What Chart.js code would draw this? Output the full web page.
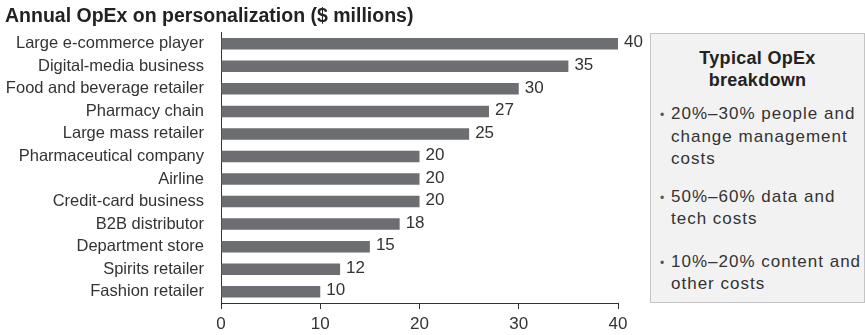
<!DOCTYPE html>
<html>
<head>
<meta charset="utf-8">
<script src="https://cdn.jsdelivr.net/npm/chart.js@4"></script>
<style>
  body { margin: 0; background: #fff; font-family: "Liberation Sans", Arial, sans-serif; color: #333; }
  #wrap { position: relative; width: 865px; height: 335px; overflow: hidden; }
  #title { position: absolute; left: 5px; top: 3px; font-size: 19.5px; line-height: 24px; font-weight: bold; color: #222; white-space: nowrap; }
  #holder { position: absolute; left: 0; top: 0; width: 645px; height: 335px; }
  #box { position: absolute; left: 650px; top: 33px; width: 213px; height: 268px; background: #f2f2f2; border: 1px solid #c4c4c4; font-size: 17px; letter-spacing: 1px; line-height: 22.5px; color: #333; }
  #box h3 { margin: 13px 0 12px 0; font-size: 18px; letter-spacing: 0.3px; line-height: 22px; text-align: center; color: #222; }
  #box ul { list-style: none; margin: 0; padding: 0 0 0 20px; }
  #box li { position: relative; margin-bottom: 15px; }
  #box li.b2 { margin-bottom: 20px; }
  #box li:before { content: "•"; position: absolute; left: -11px; top: 1px; font-size: 12px; color: #555; }
</style>
</head>
<body>
<div id="wrap">
  <div id="holder"><canvas id="myChart"></canvas></div>
  <div id="title">Annual OpEx on personalization ($ millions)</div>
  <div id="box">
    <h3>Typical OpEx<br>breakdown</h3>
    <ul>
      <li>20%–30% people and change management costs</li>
      <li class="b2">50%–60% data and tech costs</li>
      <li>10%–20% content and other costs</li>
    </ul>
  </div>
</div>
<script>
var labels = ["Large e-commerce player", "Digital-media business", "Food and beverage retailer",
  "Pharmacy chain", "Large mass retailer", "Pharmaceutical company", "Airline",
  "Credit-card business", "B2B distributor", "Department store", "Spirits retailer", "Fashion retailer"];
var values = [40, 35, 30, 27, 25, 20, 20, 20, 18, 15, 12, 10];
var xTicks = [0, 10, 20, 30, 40];

var font = "'Liberation Sans', Arial, sans-serif";

// value next to the end of each bar
var valueLabels = {
  id: 'valueLabels',
  afterDatasetsDraw: function(chart) {
    var ctx = chart.ctx;
    var meta = chart.getDatasetMeta(0);
    ctx.save();
    ctx.font = "17px " + font;
    ctx.fillStyle = "#333";
    ctx.textBaseline = "middle";
    ctx.textAlign = "left";
    meta.data.forEach(function(bar, i) {
      ctx.fillText(values[i], bar.x + 6, bar.y - 1);
    });
    ctx.restore();
  }
};

var myChart = new Chart(document.getElementById("myChart"), {
  type: 'bar',
  data: {
    labels: labels,
    datasets: [{
      data: values,
      backgroundColor: "#6d6e71",
      categoryPercentage: 1,
      barPercentage: 0.51
    }]
  },
  options: {
    indexAxis: 'y',
    responsive: true,
    maintainAspectRatio: false,
    animation: false,
    layout: { padding: { top: 32.5, right: 27, left: 0, bottom: 0 } },
    plugins: {
      legend: { display: false },
      tooltip: { enabled: false }
    },
    scales: {
      x: {
        min: 0,
        max: 40,
        afterBuildTicks: function(scale) {
          scale.ticks = xTicks.map(function(v) { return { value: v }; });
        },
        afterFit: function(scale) { scale.height = 32; },
        border: { display: true, color: "#333", width: 1 },
        grid: { drawOnChartArea: false, drawTicks: true, tickLength: 6, color: "#333" },
        ticks: { color: "#333", font: { family: font, size: 17 }, padding: 5 }
      },
      y: {
        afterFit: function(scale) { scale.width = 221; },
        border: { display: true, color: "#333", width: 1 },
        grid: { display: false },
        ticks: { color: "#333", font: { family: font, size: 16.5 }, padding: 9, autoSkip: false }
      }
    }
  },
  plugins: [valueLabels]
});
</script>
</body>
</html>
